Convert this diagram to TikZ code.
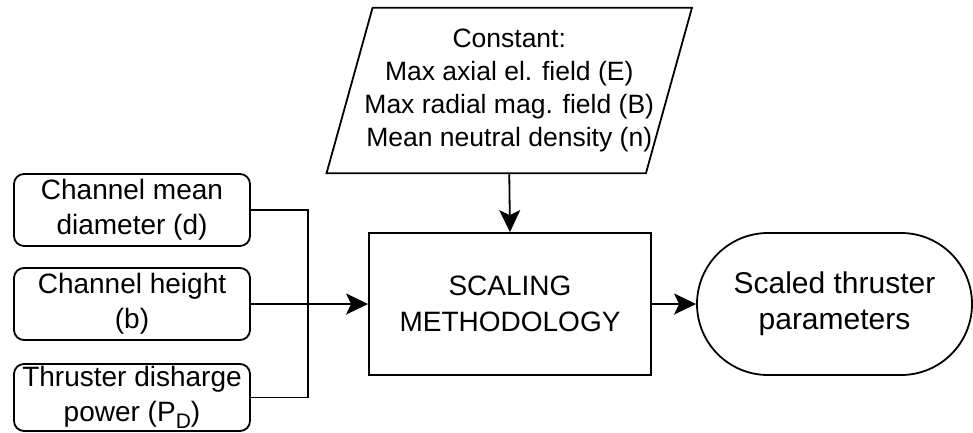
\documentclass[tikz,border=0pt]{standalone}
\usepackage{fontspec}
\setmainfont{Liberation Sans}
\usetikzlibrary{shapes.misc,arrows.meta}
\tikzset{
  ln/.style={line width=1.8pt, draw=black},
  inbox/.style={ln, rounded corners=10pt, minimum width=236pt, align=center, inner sep=0pt,
     font=\fontsize{28}{35}\selectfont},
  procbox/.style={ln, minimum width=282pt, minimum height=142pt, align=center, inner sep=0pt,
     font=\fontsize{28}{36}\selectfont},
  termbox/.style={ln, rounded rectangle, minimum width=275pt, minimum height=142pt, align=center, inner sep=0pt,
     font=\fontsize{30}{36}\selectfont},
  datatext/.style={minimum width=319pt, minimum height=165pt, align=center, inner sep=0pt,
     font=\fontsize{26.5}{32.7}\selectfont},
  arr/.style={ln, -{Stealth[length=22pt,width=21pt,inset=5pt]}},
  wire/.style={ln},
}
\begin{document}
\begin{tikzpicture}[x=1pt,y=-1pt]
\useasboundingbox (0,0) rectangle (973,432);
% parallelogram input
\node[datatext] (c) at (509.25,90.5) {Constant:\\Max axial el. field (E)\\Max radial mag. field (B)\\Mean neutral density (n)};
\draw[ln, line join=miter] ([xshift=23pt]c.north west) -- ([xshift=23pt]c.north east) -- ([xshift=-23pt]c.south east) -- ([xshift=-23pt]c.south west) -- cycle;
% inputs
\node[inbox, minimum height=72pt] (b1) at (132,210) {Channel mean\\diameter (d)};
\node[inbox, minimum height=72pt] (b2) at (132,304) {Channel height\\(b)};
\node[inbox, minimum height=67pt] (b3) at (132,397.5) {Thruster disharge\\power (P\raisebox{-0.25em}{\fontsize{21}{21}\selectfont D})};
% process
\node[procbox] (p) at (510,304) {SCALING\\METHODOLOGY};
% terminal
\node[termbox] (t) at (834.5,304) {Scaled thruster\\parameters};
% connectors
\coordinate (j) at (308,304);
\draw[wire] (b1.east) -| (j);
\draw[wire] (b3.east) -| (j);
\draw[arr] (b2.east) -- (p.west);
\draw[arr] (c.south) -- (p.north);
\draw[arr] (p.east) -- (t.west);
\end{tikzpicture}
\end{document}
